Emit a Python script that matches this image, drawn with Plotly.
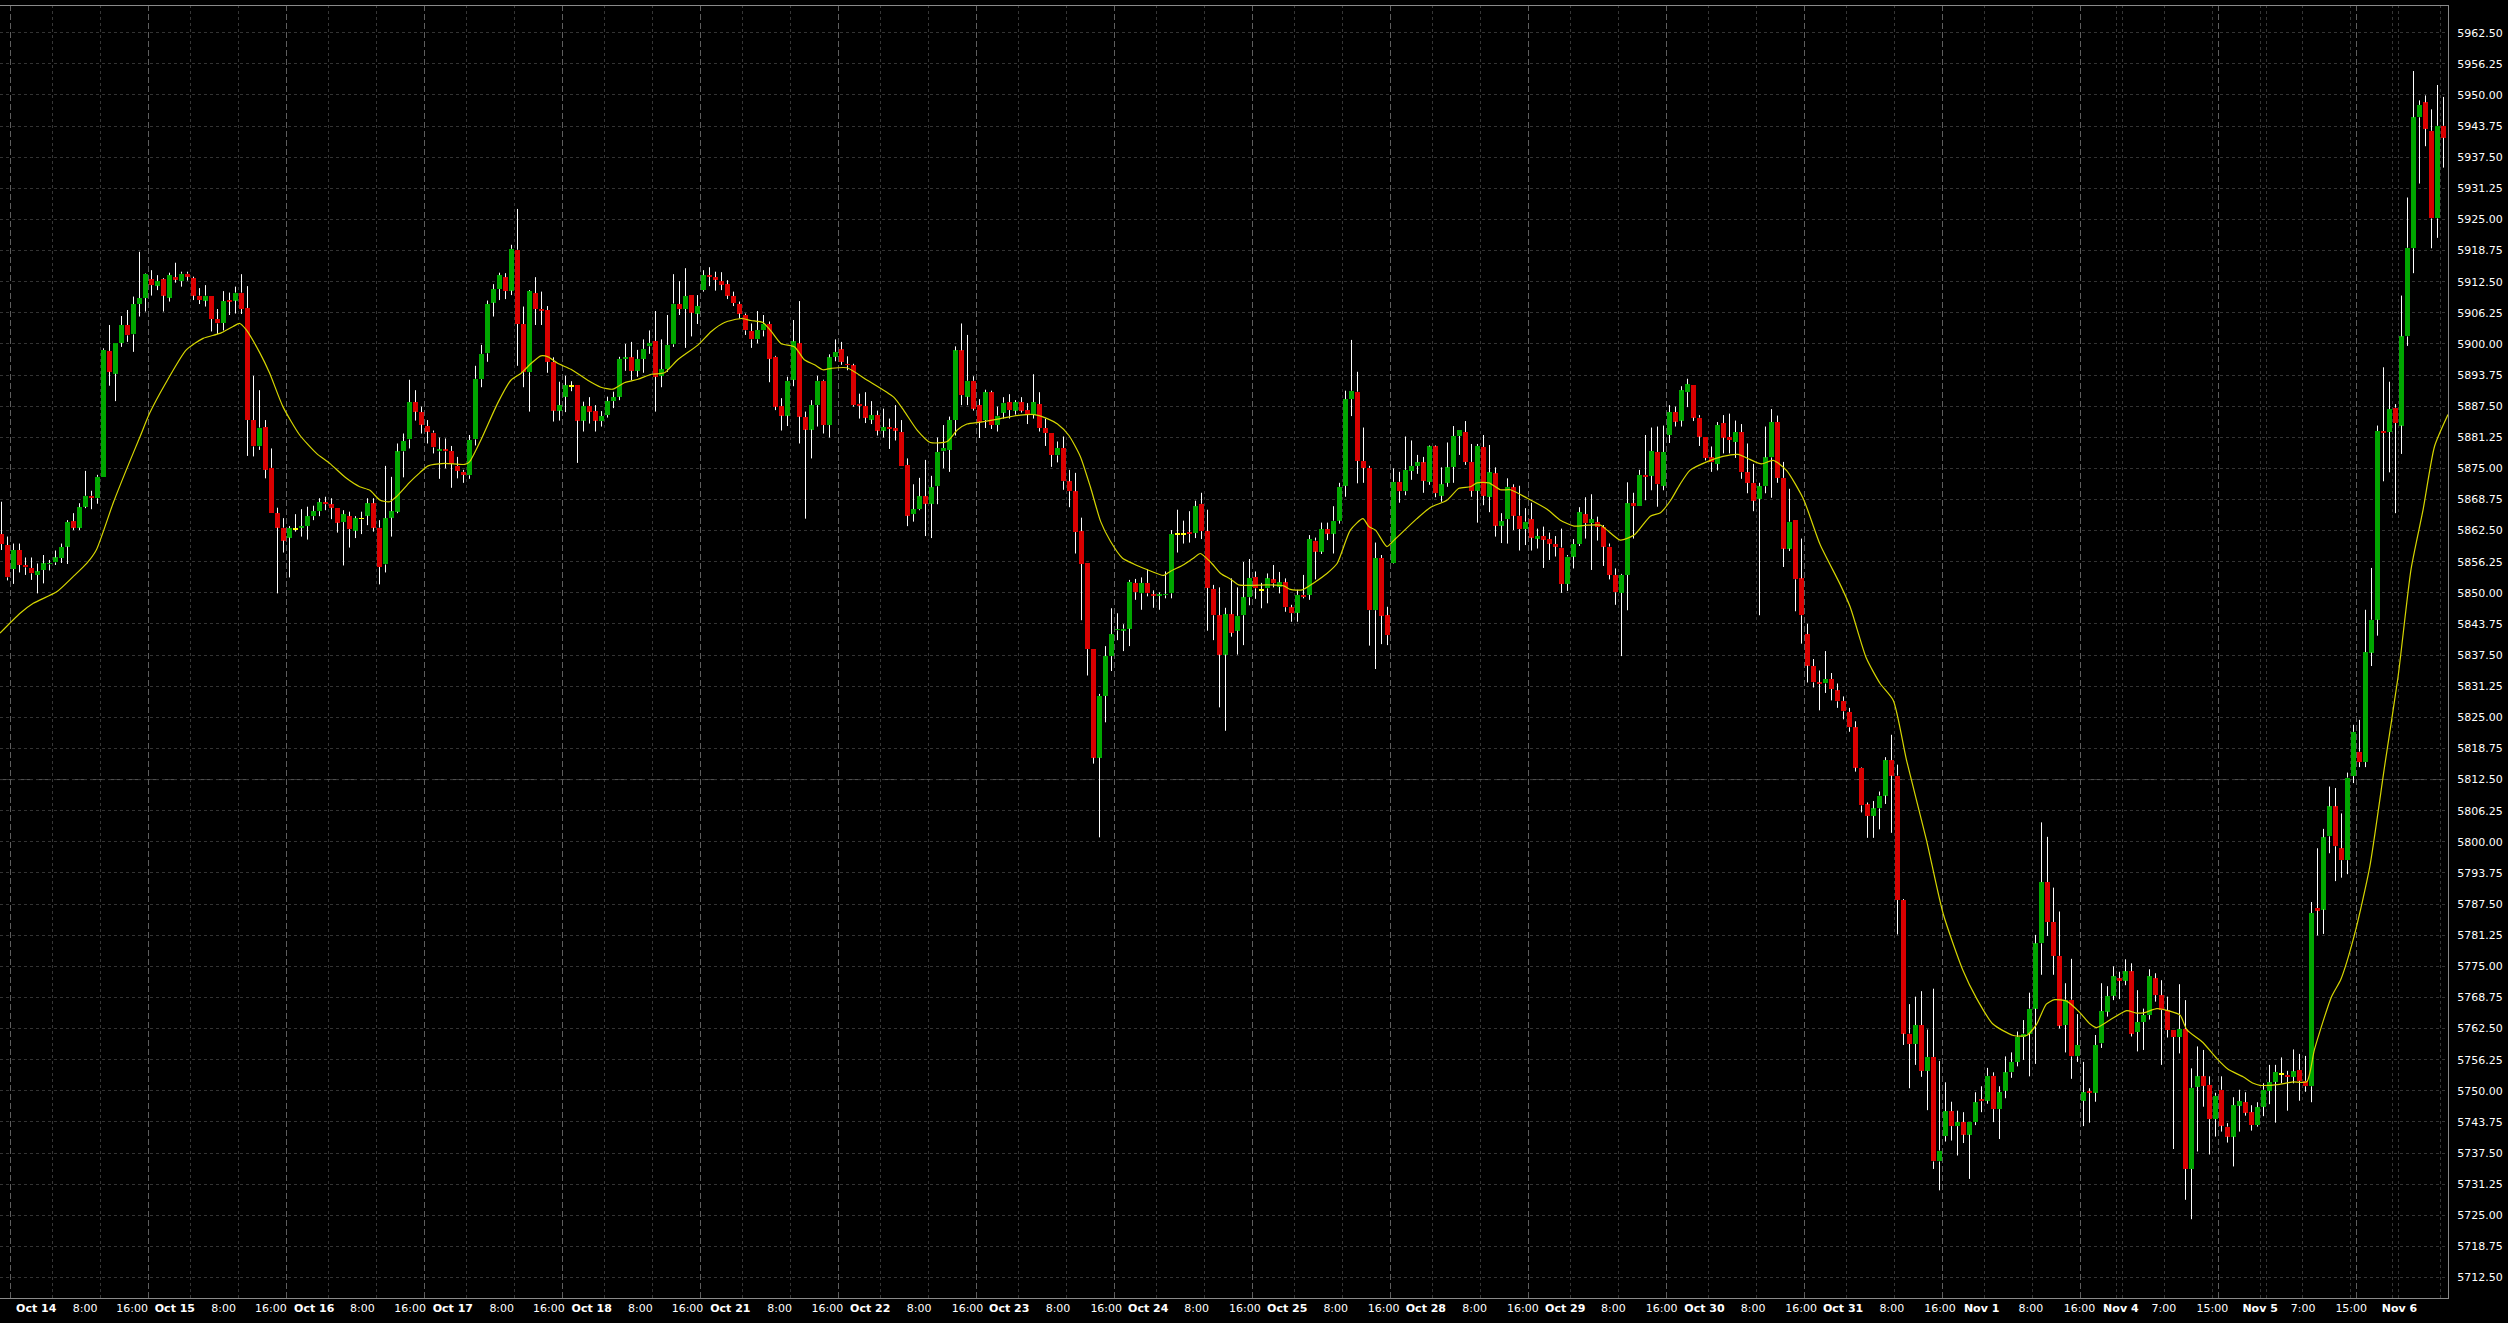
import plotly.graph_objects as go

# ---------------- data (hourly candles, index 0..407) ----------------
opens = [
5861.8,5859.6,5854.8,5858.6,5855.6,5855.0,5853.6,5854.6,5855.7,5856.1,
5857.0,5859.3,5864.4,5863.1,5867.3,5869.5,5869.0,5873.3,5898.6,5894.0,
5900.2,5903.8,5901.9,5908.0,5909.2,5913.0,5911.7,5913.0,5909.3,5913.4,
5912.6,5914.1,5913.2,5909.7,5908.7,5909.7,5905.0,5904.2,5908.8,5908.7,
5910.3,5907.2,5884.7,5879.4,5883.3,5875.1,5866.0,5863.1,5861.1,5862.8,
5863.1,5863.4,5865.4,5866.4,5868.2,5867.8,5867.0,5864.2,5865.4,5862.5,
5864.9,5865.5,5868.0,5863.1,5855.7,5865.1,5866.3,5878.4,5880.8,5888.3,
5886.3,5883.5,5882.2,5878.4,5878.8,5878.5,5875.5,5874.3,5873.6,5880.8,
5892.9,5898.1,5908.3,5911.0,5913.4,5910.7,5918.9,5904.0,5894.3,5910.2,
5907.0,5906.8,5896.4,5886.6,5889.4,5891.5,5891.7,5884.6,5887.5,5886.5,
5884.5,5885.7,5888.5,5889.4,5897.0,5897.3,5894.6,5897.0,5899.5,5900.6,
5893.6,5894.9,5899.9,5908.0,5907.0,5909.8,5906.1,5910.8,5913.8,5913.4,
5912.6,5912.0,5909.6,5908.0,5905.8,5902.6,5900.9,5902.7,5904.0,5897.4,
5887.5,5885.6,5892.8,5900.1,5885.3,5882.8,5887.7,5892.6,5883.7,5897.4,
5898.9,5896.0,5895.7,5888.0,5887.5,5884.8,5885.7,5882.6,5883.3,5883.1,
5882.3,5875.7,5865.8,5866.8,5869.4,5867.9,5871.4,5878.4,5878.7,5884.7,
5898.7,5889.4,5892.6,5887.7,5884.7,5890.3,5883.7,5886.2,5888.3,5886.6,
5888.3,5886.7,5885.8,5887.9,5883.1,5882.1,5877.6,5879.1,5872.4,5870.4,
5862.4,5856.0,5838.7,5816.9,5829.3,5837.3,5842.5,5842.4,5842.8,5852.0,
5849.9,5852.0,5849.7,5849.4,5849.5,5849.9,5861.8,5861.8,5862.1,5862.0,
5867.9,5862.4,5850.8,5845.5,5837.6,5845.7,5842.4,5845.5,5849.1,5853.2,
5850.6,5850.9,5852.7,5851.2,5852.1,5847.1,5846.0,5849.6,5849.6,5860.5,
5858.3,5862.8,5861.9,5864.5,5871.5,5888.9,5890.4,5876.5,5875.1,5846.5,
5857.0,5845.5,5856.0,5872.3,5870.4,5874.5,5875.5,5876.2,5872.3,5879.4,
5869.5,5872.1,5875.3,5881.5,5882.3,5876.3,5870.5,5879.3,5869.3,5874.0,
5863.5,5864.8,5871.2,5865.5,5862.8,5864.8,5860.9,5861.4,5860.8,5859.8,
5859.1,5851.8,5857.3,5859.8,5865.8,5864.0,5864.2,5863.2,5859.3,5853.6,
5850.0,5853.6,5868.0,5867.4,5873.7,5873.5,5878.3,5871.5,5881.7,5886.3,
5884.6,5890.3,5891.7,5885.2,5881.4,5877.2,5875.9,5884.1,5881.3,5880.3,
5882.3,5874.2,5872.1,5868.9,5871.4,5877.2,5884.3,5873.1,5858.9,5864.7,
5852.9,5841.7,5835.3,5832.0,5831.8,5832.7,5830.4,5828.3,5826.1,5823.0,
5814.9,5807.5,5805.2,5806.7,5809.3,5816.4,5813.3,5788.3,5761.5,5759.4,
5763.2,5754.0,5756.8,5735.8,5740.9,5745.9,5742.9,5743.7,5741.2,5743.7,
5748.3,5748.0,5753.0,5746.3,5750.0,5753.7,5755.8,5760.8,5761.5,5766.5,
5779.6,5791.9,5783.9,5777.1,5763.2,5768.3,5756.9,5748.0,5749.9,5749.6,
5759.5,5765.9,5769.1,5772.6,5772.1,5774.0,5761.8,5763.8,5765.2,5772.6,
5769.2,5766.2,5762.3,5760.8,5762.4,5734.3,5750.8,5752.9,5751.2,5744.3,
5750.2,5742.8,5740.8,5747.0,5747.7,5745.7,5743.1,5746.8,5750.0,5751.8,
5753.4,5753.2,5752.8,5754.2,5752.0,5750.9,5786.7,5786.4,5801.1,5807.1,
5798.7,5796.3,5813.2,5818.1,5816.0,5838.0,5844.6,5882.5,5882.3,5887.2,
5883.6,5901.5,5919.2,5945.5,5948.5,5942.8,5925.2,5943.8]

highs = [
5868.3,5861.3,5859.9,5859.9,5857.1,5857.1,5855.9,5857.6,5856.6,5858.5,
5859.9,5864.6,5866.0,5868.0,5874.5,5870.5,5873.7,5899.1,5903.8,5900.2,
5905.6,5906.8,5909.5,5918.5,5914.2,5914.8,5913.8,5913.2,5914.3,5916.3,
5914.5,5914.5,5913.5,5911.2,5911.8,5909.7,5907.0,5910.6,5910.3,5911.5,
5914.0,5911.6,5893.6,5890.7,5884.7,5879.0,5867.1,5865.0,5863.4,5865.8,
5866.8,5867.3,5867.5,5869.0,5869.3,5869.0,5867.0,5866.6,5866.3,5865.4,
5866.3,5869.0,5869.0,5864.6,5875.5,5873.3,5880.0,5882.0,5892.8,5890.7,
5887.4,5884.7,5882.6,5881.2,5881.0,5879.5,5877.3,5874.7,5881.7,5895.6,
5899.8,5908.7,5912.0,5914.3,5914.2,5919.9,5927.1,5907.5,5910.8,5913.4,
5910.5,5907.6,5897.3,5892.4,5893.6,5892.5,5891.7,5888.4,5889.3,5887.7,
5886.5,5889.4,5890.4,5897.4,5900.0,5900.4,5898.8,5900.9,5902.7,5906.6,
5900.9,5905.8,5914.0,5912.6,5915.2,5909.8,5909.8,5914.8,5915.4,5914.5,
5914.4,5912.8,5910.5,5908.5,5906.1,5904.1,5906.6,5905.8,5904.5,5897.6,
5889.1,5893.4,5904.8,5908.6,5886.4,5888.7,5893.6,5892.8,5897.9,5900.9,
5900.4,5897.5,5896.0,5890.0,5890.3,5888.5,5886.6,5887.0,5885.0,5887.7,
5884.7,5877.0,5871.8,5873.1,5876.7,5873.5,5881.2,5883.7,5885.4,5899.5,
5904.1,5901.8,5893.5,5888.9,5890.8,5890.6,5887.4,5889.3,5889.9,5888.7,
5889.3,5888.1,5893.9,5890.3,5885.0,5882.1,5880.4,5881.4,5874.7,5874.1,
5865.1,5856.0,5838.7,5829.7,5839.3,5846.9,5845.9,5843.7,5852.6,5852.8,
5853.1,5854.7,5850.5,5850.1,5854.3,5862.6,5866.7,5864.5,5866.4,5868.5,
5870.1,5866.7,5851.6,5851.1,5847.0,5852.9,5851.1,5856.2,5856.8,5854.3,
5852.0,5853.9,5855.6,5854.2,5852.9,5847.6,5850.6,5853.6,5861.6,5861.1,
5864.1,5864.1,5867.4,5872.1,5890.6,5900.8,5894.4,5883.2,5875.5,5860.1,
5857.6,5847.2,5875.0,5874.3,5881.4,5880.6,5877.7,5877.3,5879.6,5879.6,
5875.2,5880.2,5883.5,5882.7,5884.5,5879.9,5879.9,5881.7,5879.7,5875.2,
5866.0,5873.0,5871.8,5871.5,5867.0,5868.1,5862.9,5863.3,5862.1,5861.4,
5862.9,5857.6,5860.8,5867.2,5869.2,5869.8,5865.3,5863.6,5859.9,5854.9,
5853.8,5872.2,5870.1,5874.7,5881.7,5883.2,5883.4,5883.6,5887.7,5887.4,
5891.5,5893.0,5891.7,5885.7,5881.4,5879.4,5884.3,5885.7,5886.0,5884.6,
5883.9,5880.0,5875.9,5872.1,5883.4,5886.9,5885.6,5876.3,5870.9,5864.7,
5860.9,5843.8,5836.7,5834.4,5838.3,5833.9,5831.8,5829.2,5826.9,5824.2,
5815.0,5807.9,5808.2,5810.1,5817.0,5821.5,5815.5,5788.5,5767.4,5768.9,
5770.0,5762.3,5770.5,5756.0,5751.7,5747.8,5746.0,5745.7,5743.7,5749.7,
5750.9,5754.6,5753.7,5750.9,5756.9,5757.7,5761.9,5764.2,5769.7,5781.3,
5803.9,5801.0,5790.8,5786.0,5771.6,5776.5,5765.4,5755.8,5750.5,5761.2,
5771.6,5771.0,5775.0,5773.9,5776.4,5775.6,5770.2,5766.5,5774.4,5773.6,
5772.2,5768.9,5762.3,5771.4,5768.2,5754.5,5758.9,5758.2,5752.9,5749.6,
5752.9,5743.5,5748.7,5750.2,5749.7,5747.1,5747.7,5751.5,5755.2,5755.2,
5756.7,5754.0,5758.3,5757.4,5757.0,5787.9,5798.7,5802.6,5811.1,5810.8,
5805.7,5813.9,5823.5,5824.5,5846.6,5855.0,5883.6,5895.3,5892.4,5887.9,
5909.7,5929.4,5954.8,5948.9,5949.9,5947.1,5952.0,5949.6]

lows = [
5858.6,5852.5,5851.8,5854.1,5853.6,5852.6,5849.9,5851.9,5854.5,5855.6,
5856.0,5855.8,5862.6,5862.6,5867.0,5866.8,5867.9,5873.3,5891.6,5888.5,
5899.4,5900.4,5898.4,5905.5,5906.5,5909.7,5910.8,5906.5,5908.5,5912.3,
5911.5,5912.7,5908.8,5908.0,5907.5,5902.5,5902.0,5902.7,5905.8,5906.1,
5906.0,5877.5,5877.4,5878.7,5873.0,5866.0,5849.9,5858.1,5853.1,5862.3,
5861.3,5860.7,5864.6,5865.4,5866.6,5864.8,5862.1,5855.5,5859.1,5861.0,
5861.8,5863.6,5862.3,5851.7,5854.1,5861.3,5866.0,5873.2,5879.0,5884.6,
5882.0,5880.0,5878.0,5872.9,5875.0,5871.1,5873.0,5872.1,5872.9,5879.6,
5891.3,5896.4,5905.5,5908.8,5909.0,5909.8,5895.6,5891.3,5886.4,5903.8,
5903.8,5894.2,5884.4,5884.6,5886.3,5890.5,5876.1,5882.4,5884.0,5882.4,
5883.4,5885.2,5887.1,5888.7,5894.6,5892.7,5893.4,5894.2,5898.0,5886.4,
5891.3,5894.4,5899.4,5905.8,5899.2,5901.5,5904.0,5910.5,5911.6,5910.7,
5910.8,5909.0,5907.6,5905.1,5901.8,5899.2,5900.1,5901.5,5892.3,5886.7,
5882.6,5883.5,5891.5,5880.0,5864.9,5877.0,5883.4,5882.0,5881.2,5896.5,
5895.8,5894.7,5887.4,5885.0,5884.1,5883.9,5881.6,5881.2,5878.9,5880.6,
5875.5,5863.4,5864.3,5866.6,5861.4,5861.0,5867.8,5875.0,5874.3,5881.6,
5887.7,5887.7,5886.6,5881.1,5883.1,5882.9,5882.4,5885.0,5885.0,5885.8,
5886.2,5883.9,5885.0,5882.4,5879.5,5875.3,5876.2,5870.7,5867.2,5857.9,
5844.5,5833.4,5815.7,5800.9,5824.0,5834.3,5840.5,5838.3,5839.3,5848.6,
5846.6,5849.3,5847.0,5846.6,5848.9,5848.9,5858.1,5859.9,5860.1,5861.0,
5860.8,5842.4,5840.5,5827.0,5822.3,5841.2,5837.6,5839.5,5847.5,5848.8,
5846.9,5847.9,5851.1,5849.9,5846.2,5844.2,5844.2,5848.9,5848.6,5852.7,
5857.8,5860.6,5857.9,5863.9,5869.3,5885.5,5872.0,5872.1,5839.4,5834.7,
5839.7,5839.5,5855.9,5868.1,5869.6,5872.7,5873.9,5870.1,5871.7,5869.2,
5868.3,5871.3,5872.1,5877.7,5875.7,5869.3,5864.1,5867.6,5866.2,5861.3,
5860.0,5859.9,5862.6,5858.5,5859.6,5858.5,5858.9,5855.0,5856.6,5857.3,
5850.0,5850.4,5854.9,5859.4,5860.9,5854.6,5860.5,5855.4,5852.7,5847.6,
5837.3,5846.5,5860.9,5867.4,5868.6,5870.6,5867.3,5870.6,5880.1,5883.4,
5883.4,5887.3,5884.5,5879.5,5876.6,5874.3,5874.6,5878.0,5878.0,5877.1,
5872.9,5870.0,5866.4,5845.5,5870.0,5869.1,5872.1,5855.2,5858.4,5846.3,
5839.8,5832.0,5831.0,5826.4,5829.9,5828.4,5826.9,5824.6,5822.1,5814.1,
5805.9,5800.8,5800.8,5802.5,5807.6,5801.8,5781.4,5759.2,5750.5,5755.2,
5752.8,5746.1,5734.3,5730.0,5739.8,5740.0,5737.0,5739.5,5732.3,5743.1,
5745.7,5747.4,5743.7,5740.3,5748.5,5752.6,5754.9,5756.2,5752.9,5755.4,
5773.3,5781.1,5773.3,5762.5,5757.7,5752.4,5755.8,5742.9,5743.6,5747.8,
5758.6,5764.9,5768.2,5768.4,5771.2,5760.9,5757.9,5758.2,5764.3,5767.9,
5755.2,5760.7,5738.3,5757.5,5728.1,5724.2,5737.8,5746.8,5737.2,5740.8,
5741.8,5739.6,5734.8,5741.8,5745.0,5742.0,5742.8,5744.9,5747.3,5743.6,
5751.5,5746.0,5751.5,5748.0,5749.8,5747.7,5781.2,5781.5,5797.7,5792.1,
5792.8,5793.5,5811.8,5815.0,5815.0,5835.3,5841.4,5872.4,5874.2,5866.0,
5877.9,5899.6,5914.2,5932.2,5939.7,5919.2,5921.3,5935.4]

closes = [
5859.8,5853.1,5858.6,5855.6,5855.1,5853.9,5854.3,5855.9,5856.0,5857.1,
5859.2,5864.2,5863.1,5867.2,5869.5,5869.1,5873.3,5898.8,5894.4,5900.2,
5903.8,5901.7,5908.0,5909.2,5914.1,5911.8,5912.6,5909.7,5913.8,5912.9,
5914.1,5913.5,5909.7,5908.8,5909.7,5905.0,5904.1,5908.6,5908.5,5910.3,
5907.0,5884.7,5879.4,5883.2,5874.7,5866.0,5863.1,5860.5,5863.0,5862.8,
5863.4,5865.4,5866.4,5868.2,5867.8,5867.1,5864.1,5865.8,5862.8,5865.0,
5864.9,5868.0,5863.1,5855.2,5865.0,5866.4,5878.4,5880.5,5888.3,5886.4,
5883.8,5882.4,5879.2,5878.8,5878.4,5875.9,5874.5,5873.7,5880.7,5893.0,
5898.0,5908.0,5911.0,5913.8,5910.6,5919.1,5904.0,5894.3,5910.6,5907.0,
5906.7,5896.4,5886.6,5887.7,5891.7,5891.5,5884.6,5887.5,5886.4,5884.6,
5885.5,5888.5,5889.3,5897.0,5897.3,5894.6,5897.0,5899.0,5900.2,5893.4,
5894.9,5899.8,5908.1,5907.0,5909.6,5906.3,5907.6,5913.8,5913.5,5912.9,
5911.9,5909.7,5908.2,5906.1,5902.7,5900.9,5902.8,5904.0,5897.0,5887.4,
5885.6,5892.6,5900.5,5885.4,5882.8,5887.7,5892.6,5883.7,5897.3,5898.4,
5896.4,5895.7,5887.7,5887.6,5885.2,5885.7,5882.6,5883.3,5882.9,5882.6,
5875.5,5865.5,5866.8,5869.4,5867.9,5871.2,5878.3,5879.1,5884.7,5898.7,
5889.7,5892.6,5887.0,5884.4,5890.3,5883.7,5885.6,5888.2,5886.7,5888.3,
5886.6,5885.8,5888.3,5883.1,5882.1,5877.7,5879.1,5872.4,5870.4,5862.2,
5855.8,5838.7,5816.9,5829.3,5837.3,5841.7,5842.7,5842.8,5852.2,5850.1,
5852.0,5849.9,5849.4,5849.7,5849.8,5861.8,5861.8,5861.8,5861.9,5867.4,
5862.4,5851.0,5845.5,5837.6,5845.7,5842.0,5845.4,5849.1,5853.0,5850.9,
5850.6,5852.9,5851.9,5852.1,5847.1,5845.9,5849.6,5849.2,5860.8,5858.3,
5862.8,5861.9,5864.5,5871.3,5888.9,5890.6,5876.5,5875.1,5846.5,5857.0,
5845.4,5841.5,5872.3,5870.4,5874.7,5875.5,5876.2,5872.5,5879.4,5870.0,
5871.8,5875.2,5881.5,5882.7,5876.3,5870.5,5879.5,5869.5,5874.2,5863.5,
5864.4,5871.3,5865.5,5862.8,5864.3,5861.1,5861.4,5860.7,5859.9,5859.3,
5851.8,5857.3,5859.8,5866.2,5864.0,5864.8,5863.2,5859.3,5853.6,5850.1,
5853.6,5868.0,5867.4,5873.7,5873.3,5878.5,5871.8,5878.3,5886.3,5884.4,
5890.7,5891.9,5885.2,5881.4,5877.1,5876.2,5883.7,5881.2,5880.7,5882.3,
5874.2,5872.1,5868.5,5871.4,5877.2,5884.3,5873.1,5858.9,5864.3,5852.7,
5845.5,5835.4,5832.0,5831.7,5832.7,5830.7,5828.2,5826.2,5823.0,5814.9,
5807.3,5805.2,5806.7,5809.3,5816.4,5813.3,5788.3,5761.5,5759.4,5763.2,
5754.0,5756.8,5735.8,5738.0,5745.9,5742.9,5743.7,5741.2,5743.7,5747.7,
5747.9,5753.0,5746.3,5749.7,5753.7,5755.8,5760.8,5761.5,5766.5,5779.6,
5791.9,5783.9,5777.1,5763.1,5768.3,5756.9,5759.2,5749.7,5749.6,5759.2,
5766.0,5769.0,5773.0,5772.1,5774.0,5761.5,5763.8,5765.2,5773.0,5769.2,
5766.2,5762.2,5760.8,5762.4,5734.3,5750.6,5752.9,5751.0,5744.3,5749.0,
5743.0,5740.8,5747.1,5747.9,5745.6,5743.1,5746.7,5750.2,5751.7,5753.8,
5753.4,5752.8,5753.9,5752.0,5750.9,5785.7,5786.2,5800.9,5807.1,5799.1,
5796.3,5812.9,5822.1,5816.0,5838.1,5844.6,5882.5,5882.1,5886.9,5884.1,
5901.5,5919.3,5945.5,5948.0,5943.2,5925.2,5943.8,5941.4]

# moving average (bar index, value)
ma_x = [-0.25,3.1,5.3,9.2,11.9,14.2,15.8,18.6,20.8,23.1,24.7,27.5,30.8,33.6,36.4,38.6,39.7,40.8,43.1,44.7,
        46.9,49.7,52.5,54.7,57.5,59.7,61.4,63.1,64.7,65.8,68.1,69.7,71.1,73.8,77.2,78.0,79.9,82.7,84.9,86.6,
        88.3,89.9,91.1,92.7,94.9,97.7,99.9,101.9,103.8,106.1,108.3,110.5,112.7,116.1,118.3,120.5,123.3,124.9,126.9,128.3,
        129.9,132.2,133.8,135.5,136.9,138.3,140.9,144.3,148.7,150.4,152.6,154.8,157.6,159.3,160.9,163.2,166.5,169.8,172.1,174.3,
        176.0,177.9,179.8,181.5,183.2,184.8,186.8,188.7,190.9,193.7,194.8,197.1,198.7,199.8,201.5,203.2,204.8,206.2,208.2,210.9,
        213.7,214.8,216.8,218.7,220.9,222.6,224.8,226.9,227.9,229.0,230.9,232.1,235.9,238.2,240.9,242.9,244.8,245.9,247.9,249.8,
        251.5,254.3,257.6,259.8,262.1,264.3,266.5,267.6,269.8,272.1,274.8,276.5,278.2,279.7,281.4,284.2,286.9,289.4,291.4,293.3,
        295.3,297.5,300.3,303.1,306.4,308.1,310.8,313.1,315.3,317.5,320.8,323.6,326.9,329.2,331.9,335.3,337.5,339.2,340.8,342.2,
        344.2,346.4,348.1,349.2,351.4,354.2,355.8,357.2,359.2,361.4,363.1,364.2,366.9,369.2,371.1,373.6,375.3,376.4,379.7,381.9,
        384.2,385.5,388.3,389.9,392.2,394.7,397.2,399.4,401.6,403.6,405.5,407.75]
ma_y = [5841.9,5845.9,5847.9,5850.2,5853.2,5855.9,5858.6,5868.0,5874.7,5881.4,5886.1,5892.4,5898.8,5901.1,5902.1,5903.5,5904.1,5902.8,5898.1,5894.1,
        5887.4,5881.7,5878.0,5876.0,5873.0,5871.3,5870.6,5868.6,5868.3,5869.3,5872.3,5874.1,5875.5,5876.0,5875.8,5876.3,5880.7,5888.1,5892.7,5894.1,
        5896.1,5897.6,5897.4,5896.1,5894.9,5892.7,5891.3,5890.9,5892.2,5892.9,5893.9,5894.2,5896.8,5899.8,5902.5,5904.3,5905.1,5904.7,5904.3,5902.5,
        5900.1,5899.4,5896.8,5895.8,5894.8,5895.1,5895.2,5892.7,5889.3,5886.6,5882.7,5880.2,5880.4,5882.7,5883.9,5884.3,5885.0,5885.7,5885.8,5885.0,
        5883.9,5881.6,5877.4,5871.2,5864.3,5860.4,5857.0,5855.8,5854.7,5853.5,5854.3,5855.7,5857.0,5857.9,5856.2,5853.9,5852.8,5851.6,5851.5,5851.6,
        5851.4,5850.7,5850.6,5852.0,5853.9,5855.9,5862.6,5864.9,5863.3,5862.6,5859.3,5860.6,5864.9,5867.2,5868.6,5871.0,5871.3,5872.1,5872.1,5870.7,
        5870.7,5869.0,5866.8,5864.6,5863.4,5863.6,5863.6,5862.6,5860.6,5861.6,5865.4,5866.1,5868.6,5871.7,5874.6,5876.3,5877.4,5877.8,5876.8,5875.9,
        5876.6,5874.6,5868.9,5859.7,5851.8,5847.2,5836.9,5831.8,5828.4,5816.4,5800.5,5785.6,5774.2,5768.5,5763.4,5761.1,5761.1,5763.4,5767.4,5768.3,
        5768.0,5765.7,5763.4,5762.7,5764.2,5766.1,5765.6,5765.7,5766.5,5766.0,5765.2,5762.3,5759.7,5756.5,5754.3,5752.8,5751.5,5751.1,5751.3,5751.8,
        5751.8,5758.3,5768.8,5772.4,5781.5,5794.9,5815.3,5832.9,5854.8,5866.7,5879.4,5885.8]

price_ticks = [5712.50,5718.75,5725.00,5731.25,5737.50,5743.75,5750.00,5756.25,5762.50,5768.75,
               5775.00,5781.25,5787.50,5793.75,5800.00,5806.25,5812.50,5818.75,5825.00,5831.25,
               5837.50,5843.75,5850.00,5856.25,5862.50,5868.75,5875.00,5881.25,5887.50,5893.75,
               5900.00,5906.25,5912.50,5918.75,5925.00,5931.25,5937.50,5943.75,5950.00,5956.25,5962.50]

time_labels = ["Oct 14","8:00","16:00","Oct 15","8:00","16:00","Oct 16","8:00","16:00",
               "Oct 17","8:00","16:00","Oct 18","8:00","16:00","Oct 21","8:00","16:00",
               "Oct 22","8:00","16:00","Oct 23","8:00","16:00","Oct 24","8:00","16:00",
               "Oct 25","8:00","16:00","Oct 28","8:00","16:00","Oct 29","8:00","16:00",
               "Oct 30","8:00","16:00","Oct 31","8:00","16:00","Nov 1","8:00","16:00",
               "Nov 4","7:00","15:00","Nov 5","7:00","15:00","Nov 6"]

# ---------------- layout helpers (positions / styles) ----------------
label_pos = [5.78,13.92,21.77,28.9,37.03,44.88,52.12,60.15,68.1,75.23,83.37,91.22,98.37,106.48,114.33,
             121.48,129.68,137.63,144.78,152.92,161.0,167.95,176.08,184.12,191.12,199.2,207.23,214.28,
             222.37,230.35,237.4,245.53,253.57,260.62,268.65,276.7,283.82,291.93,299.95,306.93,315.05,
             323.08,330.02,338.22,346.33,353.22,360.38,368.47,376.43,383.6,391.62,399.65]
day_lines = [1.5,24.5,47.5,70.5,93.5,116.5,139.5,162.5,185.5,208.5,231.5,254.5,277.5,300.5,323.5,346.5,369.5,392.5]
hour_lines = []
for d in day_lines[:15]:
    hour_lines += [d + 7, d + 15]
hour_lines += [352.5,353.5,360.5,368.5,376.5,377.5,383.5,391.5,398.5,399.5,406.5]

GREEN = "#00A600"
RED = "#DA0000"
YELLOW = "#FFFF00"

N = len(opens)
idx = list(range(N))

body_base, body_h, body_col = [], [], []
wick_x, wick_y = [], []
for i in idx:
    o, c = opens[i], closes[i]
    lo, hi = min(o, c), max(o, c)
    h = hi - lo
    if h < 0.05:
        col = YELLOW
    elif c > o:
        col = GREEN
    else:
        col = RED
    if h < 0.3:
        mid = (lo + hi) / 2
        lo, hi, h = mid - 0.15, mid + 0.15, 0.3
    body_base.append(lo)
    body_h.append(h)
    body_col.append(col)
    # wick only outside the body so the body colour stays pure
    if highs[i] > hi:
        wick_x += [i, i, None]
        wick_y += [hi, highs[i], None]
    if lows[i] < lo:
        wick_x += [i, i, None]
        wick_y += [lows[i], lo, None]

fig = go.Figure()
fig.add_trace(go.Bar(x=idx, y=body_h, base=body_base, width=0.83,
                     marker=dict(color=body_col, line=dict(width=0)), hoverinfo="skip"))
fig.add_trace(go.Scatter(x=wick_x, y=wick_y, mode="lines",
                         line=dict(color="#ffffff", width=1), hoverinfo="skip"))
fig.add_trace(go.Scatter(x=ma_x, y=ma_y, mode="lines",
                         line=dict(color="#d6d600", width=1.2, shape="spline", smoothing=0.6),
                         hoverinfo="skip"))

shapes = []
for x in hour_lines:
    shapes.append(dict(type="line", xref="x", yref="paper", x0=x, x1=x, y0=0, y1=1,
                       line=dict(color="#363636", width=1, dash="3px,3px"), layer="below"))
for x in day_lines:
    shapes.append(dict(type="line", xref="x", yref="paper", x0=x, x1=x, y0=0, y1=1,
                       line=dict(color="#5e5e5e", width=1, dash="6px,3px"), layer="below"))
shapes.append(dict(type="line", xref="paper", yref="y", x0=0, x1=1, y0=5812.5, y1=5812.5,
                   line=dict(color="#555555", width=1, dash="6px,3px"), layer="below"))

ticktext = ["<b>%s</b>" % t if (t.startswith("Oct") or t.startswith("Nov")) else t for t in time_labels]

fig.update_layout(
    width=2508, height=1323,
    paper_bgcolor="#000000", plot_bgcolor="#000000",
    margin=dict(l=0, r=60, t=6, b=25, pad=0),
    showlegend=False, bargap=0,
    shapes=shapes,
    font=dict(family="DejaVu Sans", size=11, color="#ffffff"),
    xaxis=dict(range=[-0.25, 407.75], showgrid=False, zeroline=False,
               tickmode="array", tickvals=label_pos, ticktext=ticktext, ticks="",
               tickfont=dict(family="DejaVu Sans", size=11, color="#ffffff"),
               showline=True, linecolor="#8a8a8a", linewidth=1, mirror=True, fixedrange=True),
    yaxis=dict(range=[5708.38, 5967.86], side="right", showgrid=True,
               gridcolor="#333333", gridwidth=1, griddash="3px,3px", zeroline=False,
               tickmode="array", tickvals=price_ticks,
               ticktext=["%.2f" % v for v in price_ticks], ticks="",
               ticklabelstandoff=6,
               tickfont=dict(family="DejaVu Sans", size=11, color="#ffffff"),
               showline=True, linecolor="#8a8a8a", linewidth=1, mirror=True, fixedrange=True),
)

fig.write_html("out.html", config={"staticPlot": True},
               post_script="document.body.style.margin='0';document.body.style.overflow='hidden';")
